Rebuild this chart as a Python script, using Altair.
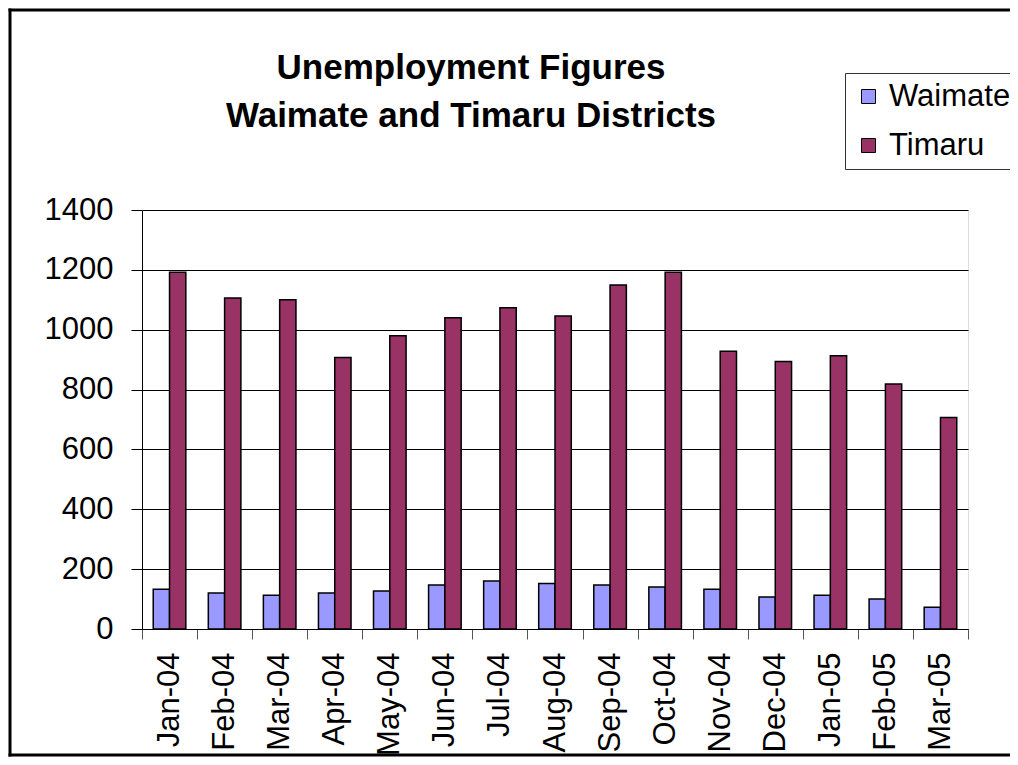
import altair as alt
import pandas as pd

months = ["Jan-04", "Feb-04", "Mar-04", "Apr-04", "May-04", "Jun-04", "Jul-04", "Aug-04",
          "Sep-04", "Oct-04", "Nov-04", "Dec-04", "Jan-05", "Feb-05", "Mar-05"]
waimate = [133, 120, 113, 120, 127, 147, 160, 152, 147, 140, 133, 107, 113, 100, 73]
timaru = [1192, 1106, 1100, 907, 980, 1040, 1073, 1046, 1149, 1192, 928, 894, 913, 819, 707]
series = ["Waimate", "Timaru"]
colors = ["#9999FF", "#993366"]
y_ticks = [0, 200, 400, 600, 800, 1000, 1200, 1400]
title_lines = ["Unemployment Figures", "Waimate and Timaru Districts"]

rows = []
for i, m in enumerate(months):
    rows.append({"Month": m, "Series": "Waimate", "Value": waimate[i]})
    rows.append({"Month": m, "Series": "Timaru", "Value": timaru[i]})
df = pd.DataFrame(rows)

FONT = "Liberation Sans"
FS = 31

bars = alt.Chart(df).mark_bar(stroke="black", strokeWidth=1.5).encode(
    x=alt.X("Month:N", sort=months, title=None,
            scale=alt.Scale(paddingInner=0, paddingOuter=0),
            axis=alt.Axis(labelAngle=270, labelFontSize=FS, labelFont=FONT, labelColor="black",
                          tickBand="extent", tickSize=10, tickColor="#555555", tickWidth=1,
                          domainColor="black", domainWidth=1, labelPadding=13, grid=False)),
    xOffset=alt.XOffset("Series:N", sort=series,
                        scale=alt.Scale(paddingInner=0, paddingOuter=0.69)),
    y=alt.Y("Value:Q", title=None, scale=alt.Scale(domain=[0, 1400], nice=False),
            axis=alt.Axis(values=y_ticks, format="d", labelFontSize=FS, labelFont=FONT,
                          labelColor="black", tickSize=11, tickColor="black", tickWidth=1,
                          domainColor="black", domainWidth=1, labelPadding=18, grid=True,
                          gridColor="black", gridWidth=1, gridOpacity=1)),
    color=alt.Color("Series:N", sort=series,
                    scale=alt.Scale(domain=series, range=colors),
                    legend=alt.Legend(title=None, orient="none", legendX=703, legendY=-137,
                                      direction="vertical", symbolType="square", symbolSize=196,
                                      symbolStrokeColor="black", symbolStrokeWidth=1,
                                      symbolOpacity=1, labelFontSize=FS, labelFont=FONT,
                                      labelColor="black", labelOffset=5, rowPadding=17,
                                      padding=8, strokeColor="#333333", fillColor="white")),
)

frame_df = pd.DataFrame({"k": [0]})
top_edge = alt.Chart(frame_df).mark_rule(stroke="black", strokeWidth=3).encode(
    x=alt.value(-133.5), x2=alt.value(2000), y=alt.value(-200)
)
left_edge = alt.Chart(frame_df).mark_rule(stroke="black", strokeWidth=3).encode(
    x=alt.value(-132), y=alt.value(-201.5), y2=alt.value(546.5)
)
bottom_edge = alt.Chart(frame_df).mark_rule(stroke="black", strokeWidth=3).encode(
    x=alt.value(-133.5), x2=alt.value(2000), y=alt.value(545)
)

chart = alt.layer(top_edge, left_edge, bottom_edge, bars).properties(
    width=826,
    height=419,
    title=alt.TitleParams(text=title_lines, fontSize=35, font=FONT, fontWeight="bold",
                          color="black", anchor="middle", dx=-84, dy=131, lineHeight=48),
    padding={"left": 134, "top": 202, "right": 42, "bottom": 128},
    autosize=alt.AutoSizeParams(type="none"),
).configure_view(
    fill="#C0C0C0", stroke="#808080", strokeWidth=1
).configure(background="white")

chart.save("out.html", embed_options={"renderer": "svg", "actions": False})
